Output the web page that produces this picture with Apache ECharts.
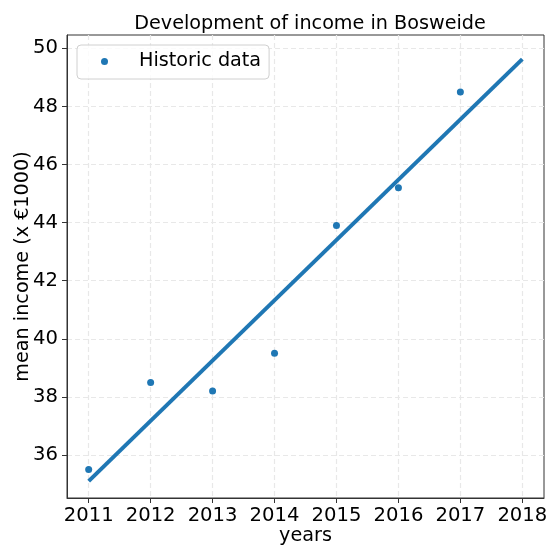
<!DOCTYPE html>
<html>
<head>
<meta charset="utf-8">
<script src="https://cdn.jsdelivr.net/npm/echarts@6/dist/echarts.min.js"></script>
<style>html,body{margin:0;padding:0;background:#fff}#c{width:547px;height:545px}</style>
</head>
<body>
<div id="c"></div>
<script>
// Data
const years = [2011, 2012, 2013, 2014, 2015, 2016, 2017];
const income = [35.5, 38.5, 38.2, 39.5, 43.9, 45.2, 48.5];
const trendYears = [2011, 2018];
const trendIncome = [35.1, 49.63];
const xTicks = [2011, 2012, 2013, 2014, 2015, 2016, 2017, 2018];
const yTicks = [36, 38, 40, 42, 44, 46, 48, 50];

const FONT = 'DejaVu Sans';
const FS = 19.2;
const FT = 19.6;
const blue = '#1f77b4';

const chart = echarts.init(document.getElementById('c'), null, {renderer: 'canvas'});
chart.setOption({
  animation: false,
  backgroundColor: '#fff',
  textStyle: {fontFamily: FONT},
  title: {
    text: 'Development of income in Bosweide',
    left: 305, top: 10, textAlign: 'center',
    textStyle: {fontFamily: FONT, fontSize: FS, fontWeight: 'normal', color: '#000'}
  },
  grid: {left: 67, right: 3, top: 35, bottom: 47, containLabel: false, outerBoundsMode: 'none',
    show: true, borderColor: '#333', borderWidth: 1, backgroundColor: 'transparent'},
  legend: {
    data: ['Historic data'],
    left: 77, top: 45,
    icon: 'circle', itemWidth: 7, itemHeight: 7,
    padding: [7, 8, 8, 24],
    borderColor: '#d0d0d0', borderWidth: 1, borderRadius: 4,
    backgroundColor: 'rgba(255,255,255,0.8)',
    textStyle: {fontFamily: FONT, fontSize: FS, color: '#000', padding: [0, 0, 0, 26]}
  },
  xAxis: {
    type: 'value', min: 2010.65, max: 2018.35,
    name: 'years', nameLocation: 'middle', nameGap: 29, nameMoveOverlap: false,
    nameTextStyle: {fontFamily: FONT, fontSize: FS, color: '#000'},
    axisLine: {show: true, onZero: false, lineStyle: {color: '#333', width: 1}},
    axisTick: {show: true, length: 5, customValues: xTicks, lineStyle: {color: '#333'}},
    axisLabel: {customValues: xTicks, margin: 8, fontFamily: FONT, fontSize: FT, color: '#000', formatter: v => String(v)},
    splitLine: {show: true, lineStyle: {color: '#e8e8e8', type: [5, 3], width: 1.2}}
  },
  yAxis: {
    type: 'value', min: 34.52, max: 50.46,
    name: 'mean income (x €1000)', nameLocation: 'middle', nameGap: 34, nameMoveOverlap: false,
    nameTextStyle: {fontFamily: FONT, fontSize: FS, color: '#000'},
    axisLine: {show: true, onZero: false, lineStyle: {color: '#333', width: 1}},
    axisTick: {show: true, length: 5, customValues: yTicks, lineStyle: {color: '#333'}},
    axisLabel: {customValues: yTicks, margin: 9, fontFamily: FONT, fontSize: FT, color: '#000', formatter: v => String(v)},
    splitLine: {show: true, lineStyle: {color: '#e8e8e8', type: [5, 3], width: 1.2}}
  },
  series: [
    {
      name: 'Historic data', type: 'scatter', symbol: 'circle', symbolSize: 7,
      itemStyle: {color: blue, opacity: 1},
      data: years.map((y, i) => [y, income[i]]), z: 3
    },
    {
      name: 'trend', type: 'line', showSymbol: false, symbol: 'none',
      lineStyle: {color: blue, width: 4}, z: 2,
      data: trendYears.map((y, i) => [y, trendIncome[i]])
    }
  ]
});
</script>
</body>
</html>
